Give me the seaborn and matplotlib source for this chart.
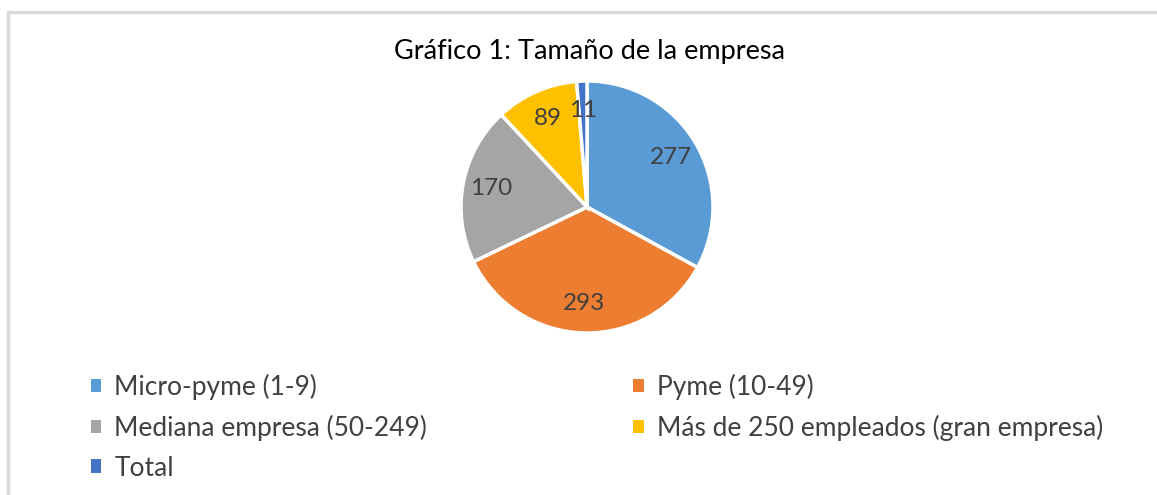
import matplotlib
matplotlib.use('Agg')
import matplotlib.pyplot as plt
from matplotlib.lines import Line2D
from matplotlib.patches import Patch
import seaborn as sns

# ── Data ──
categories = ['Micro-pyme (1-9)', 'Pyme (10-49)', 'Mediana empresa (50-249)',
              'Más de 250 empleados (gran empresa)', 'Total']
values = [277, 293, 170, 89, 11]
colors = ['#5B9BD5', '#ED7D31', '#A5A5A5', '#FFC000', '#4472C4']
title = 'Gráfico 1: Tamaño de la empresa'

sns.set_theme(style='white')
plt.rcParams['font.family'] = ['Lato', 'DejaVu Sans']

W, H = 1157, 495
fig = plt.figure(figsize=(W / 100, H / 100), dpi=100)

# ── Chart frame (light grey border) ──
fig.add_artist(Line2D([8 / W, 1], [1 - 12 / H, 1 - 12 / H], color='#D9D9D9', lw=2.5))
fig.add_artist(Line2D([8 / W, 8 / W], [0, 1 - 12 / H], color='#D9D9D9', lw=2.5))

# ── Pie ──
cx, cy, r = 587, 207, 126
ax = fig.add_axes([(cx - r) / W, (H - cy - r) / H, 2 * r / W, 2 * r / H])
total = sum(values)
wedges, _, autotexts = ax.pie(
    values, colors=colors, startangle=90, counterclock=False,
    autopct=lambda p: f'{round(p * total / 100):.0f}', pctdistance=0.77,
    wedgeprops=dict(edgecolor='white', linewidth=2.5),
    textprops=dict(color='#404040', fontsize=17.5))
ax.set_xlim(-1, 1)
ax.set_ylim(-1, 1)
ax.set_aspect('equal')
ax.axis('off')

fig.text(590 / W, 1 - 52 / H, title, ha='center', va='center',
         fontsize=19.5, color='#000000')

# ── Legend (row-major order like Excel) ──
handles = [Patch(facecolor=c, edgecolor='none') for c in colors]
order = [0, 2, 4, 1, 3]
leg = fig.legend([handles[i] for i in order], [categories[i] for i in order],
                 ncol=2, loc='upper left', bbox_to_anchor=(67 / W, 1 - 350 / H),
                 frameon=False, fontsize=19, handlelength=0.4, handleheight=0.4,
                 handletextpad=0.5, columnspacing=7.8, labelspacing=0.56,
                 labelcolor='#404040')

plt.savefig('out.png', dpi=100)
